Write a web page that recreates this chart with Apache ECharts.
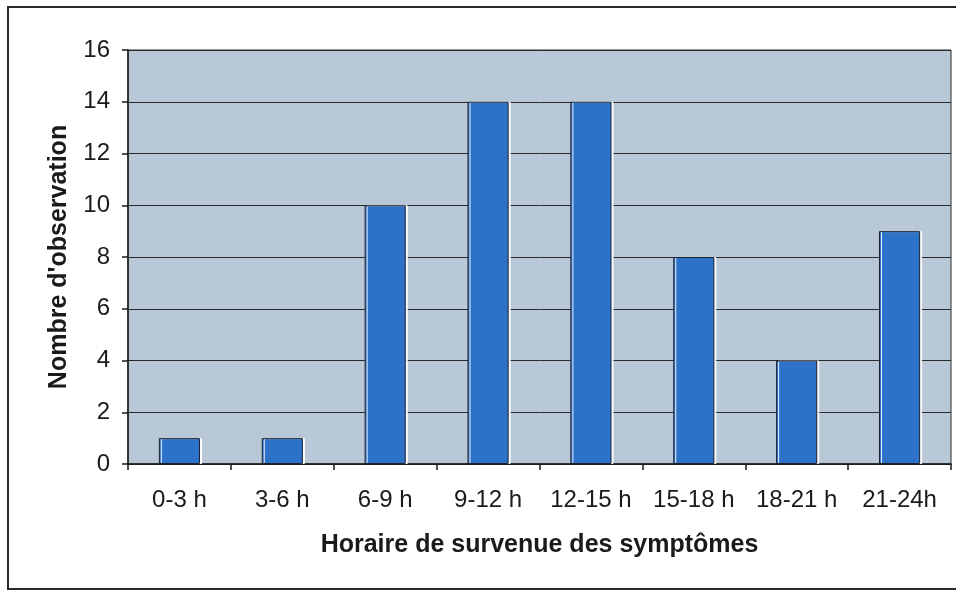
<!DOCTYPE html>
<html>
<head>
<meta charset="utf-8">
<script src="https://cdn.jsdelivr.net/npm/echarts@6/dist/echarts.min.js"></script>
<style>
  html, body { margin: 0; padding: 0; background: #fff; }
  #chart { width: 956px; height: 591px; }
</style>
</head>
<body>
<div id="chart"></div>
<script>
// tranches horaires et nombre d'observations
const categories = ['0-3 h', '3-6 h', '6-9 h', '9-12 h', '12-15 h', '15-18 h', '18-21 h', '21-24h']
const observations = [1, 1, 10, 14, 14, 8, 4, 9]
const yTicks = {min: 0, max: 16, interval: 2}

const chart = echarts.init(document.getElementById('chart'))

const font = '"Liberation Sans", Arial, sans-serif'

chart.setOption({
  backgroundColor: '#fff',
  animation: false,
  grid: {
    left: 128,
    right: 5,
    top: 50,
    bottom: 127,
    show: true,
    backgroundColor: '#b9c8d7',
    borderColor: '#2a2a2a',
    borderWidth: 1,
  },
  graphic: [{
    type: 'rect',
    shape: {x: 8, y: 7, width: 960, height: 582},
    style: {fill: 'none', stroke: '#2a2a2a', lineWidth: 2},
    silent: true,
    z: 100,
  }],
  xAxis: {
    type: 'category',
    data: categories,
    name: 'Horaire de survenue des symptômes',
    nameLocation: 'middle',
    nameGap: 69,
    nameTextStyle: {fontFamily: font, fontSize: 25, fontWeight: 'bold', color: '#1a1a1a'},
    axisLine: {lineStyle: {color: '#1a1a1a', width: 1.5}},
    axisTick: {show: true, interval: 0, length: 6, lineStyle: {color: '#1a1a1a', width: 1.5}},
    axisLabel: {interval: 0, hideOverlap: false, fontFamily: font, fontSize: 24, color: '#1a1a1a', margin: 24},
    splitLine: {show: false},
  },
  yAxis: {
    type: 'value',
    min: yTicks.min,
    max: yTicks.max,
    interval: yTicks.interval,
    name: "Nombre d'observation",
    nameLocation: 'middle',
    nameGap: 56,
    nameTextStyle: {fontFamily: font, fontSize: 25, fontWeight: 'bold', color: '#1a1a1a'},
    axisLine: {show: true, lineStyle: {color: '#1a1a1a', width: 1.5}},
    axisTick: {show: true, length: 6, lineStyle: {color: '#1a1a1a', width: 1.5}},
    axisLabel: {fontFamily: font, fontSize: 24, color: '#1a1a1a', margin: 18},
    splitLine: {show: true, lineStyle: {color: '#2a2a2a', width: 1}},
  },
  series: [{
    type: 'bar',
    data: observations,
    barWidth: '40%',
    itemStyle: {
      color: '#2d72c9',
      borderColor: '#1c2230',
      borderWidth: 1,
      shadowColor: 'rgba(255,255,255,0.9)',
      shadowOffsetX: 2,
      shadowBlur: 0,
    },
  }],
})
</script>
</body>
</html>
